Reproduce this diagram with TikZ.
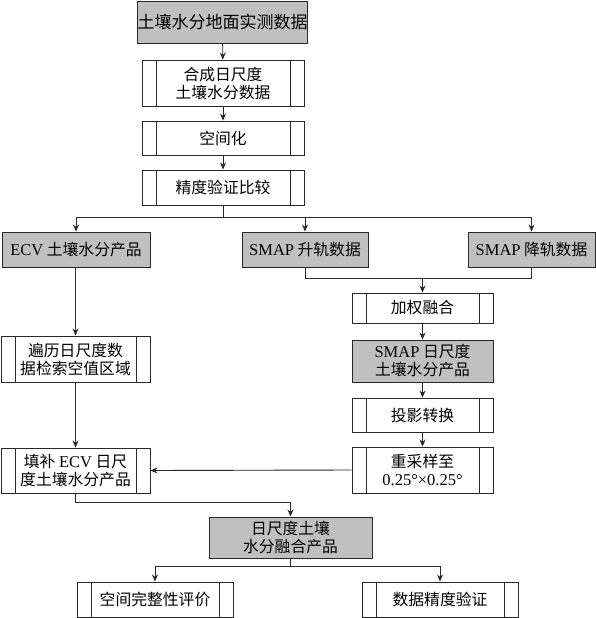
\documentclass[tikz,border=0pt]{standalone}
\usepackage{fontspec}
\setmainfont{Liberation Serif}
\newfontfamily\cjk{Noto Sans CJK SC}
\usetikzlibrary{arrows.meta}
\definecolor{boxgray}{RGB}{192,192,192}
\definecolor{linec}{RGB}{40,40,40}
\tikzset{
  base/.style={draw=linec, line width=0.9pt, align=center, inner sep=0pt,
    font=\fontsize{15.8}{18}\selectfont\cjk},
  graybox/.style={base, fill=boxgray},
  proc/.style={base, fill=white, path picture={
    \draw[linec, line width=0.9pt]
      ([xshift=14pt]path picture bounding box.north west) -- ([xshift=14pt]path picture bounding box.south west)
      ([xshift=-14pt]path picture bounding box.north east) -- ([xshift=-14pt]path picture bounding box.south east);}},
  conn/.style={draw=linec, line width=0.9pt},
  arr/.style={conn, -{Stealth[length=7pt,width=6pt]}}
}
\newcommand{\lt}[1]{{\rmfamily\fontsize{16.5}{18}\selectfont #1}}
\begin{document}
\begin{tikzpicture}[x=1pt,y=-1pt]
\useasboundingbox (0,0) rectangle (596,618);
\node[graybox, minimum width=165pt, minimum height=42pt, font=\fontsize{17}{18}\selectfont\cjk] (n1) at (222.5,22) {土壤水分地面实测数据};
\node[proc, minimum width=162pt, minimum height=46pt] (n2) at (223,83) {合成日尺度\\土壤水分数据};
\node[proc, minimum width=162pt, minimum height=34pt] (n3) at (223,138) {空间化};
\node[proc, minimum width=162pt, minimum height=35pt] (n4) at (223,187.5) {精度验证比较};
\node[graybox, minimum width=148pt, minimum height=35pt] (ecv) at (76,249.5) {\lt{ECV} 土壤水分产品};
\node[graybox, minimum width=126pt, minimum height=35pt] (up) at (305,249.5) {\lt{SMAP} 升轨数据};
\node[graybox, minimum width=127pt, minimum height=35pt] (down) at (531.5,249.5) {\lt{SMAP} 降轨数据};
\node[proc, minimum width=141pt, minimum height=30pt] (jq) at (422.5,308) {加权融合};
\node[graybox, minimum width=141pt, minimum height=42pt] (smapd) at (422.5,361) {\lt{SMAP} 日尺度\\土壤水分产品};
\node[proc, minimum width=141pt, minimum height=34pt] (proj) at (422.5,415) {投影转换};
\node[proc, minimum width=141pt, minimum height=46pt] (resamp) at (422.5,470) {重采样至\\\lt{0.25°×0.25°}};
\node[proc, minimum width=149pt, minimum height=46pt] (trav) at (75.5,359) {遍历日尺度数\\据检索空值区域};
\node[proc, minimum width=149pt, minimum height=45pt] (fill) at (75.5,470.5) {填补 \lt{ECV} 日尺\\度土壤水分产品};
\node[graybox, minimum width=163pt, minimum height=41pt] (fused) at (290.5,537.5) {日尺度土壤\\水分融合产品};
\node[proc, minimum width=156pt, minimum height=35pt] (sp) at (155,599.5) {空间完整性评价};
\node[proc, minimum width=156pt, minimum height=35pt] (acc) at (440,599.5) {数据精度验证};
% connectors
\draw[arr] (n1) -- (n2);
\draw[arr] (n2) -- (n3);
\draw[arr] (n3) -- (n4);
\coordinate (b1) at (223,217);
\draw[conn] (n4.south) -- (b1);
\draw[arr] (b1) -| (ecv.north);
\draw[arr] (b1) -| (down.north);
\draw[arr] (up.north |- b1) -- (up.north);
\coordinate (m1) at (422.5,278);
\draw[conn] (up.south) |- (m1);
\draw[conn] (down.south) |- (m1);
\draw[arr] (m1) -- (jq.north);
\draw[arr] (jq) -- (smapd);
\draw[arr] (smapd) -- (proj);
\draw[arr] (proj) -- (resamp);
\draw[arr] (ecv.south -| trav.north) -- (trav.north);
\draw[arr] (trav) -- (fill);
\draw[arr] (resamp.west) -- (fill.east);
\coordinate (m2) at (290.5,502);
\draw[conn] (fill.south) |- (m2);
\draw[arr] (m2) -- (fused.north);
\coordinate (b2) at (290.5,566);
\draw[conn] (fused.south) -- (b2);
\draw[arr] (b2) -| (sp.north);
\draw[arr] (b2) -| (acc.north);
\end{tikzpicture}
\end{document}
